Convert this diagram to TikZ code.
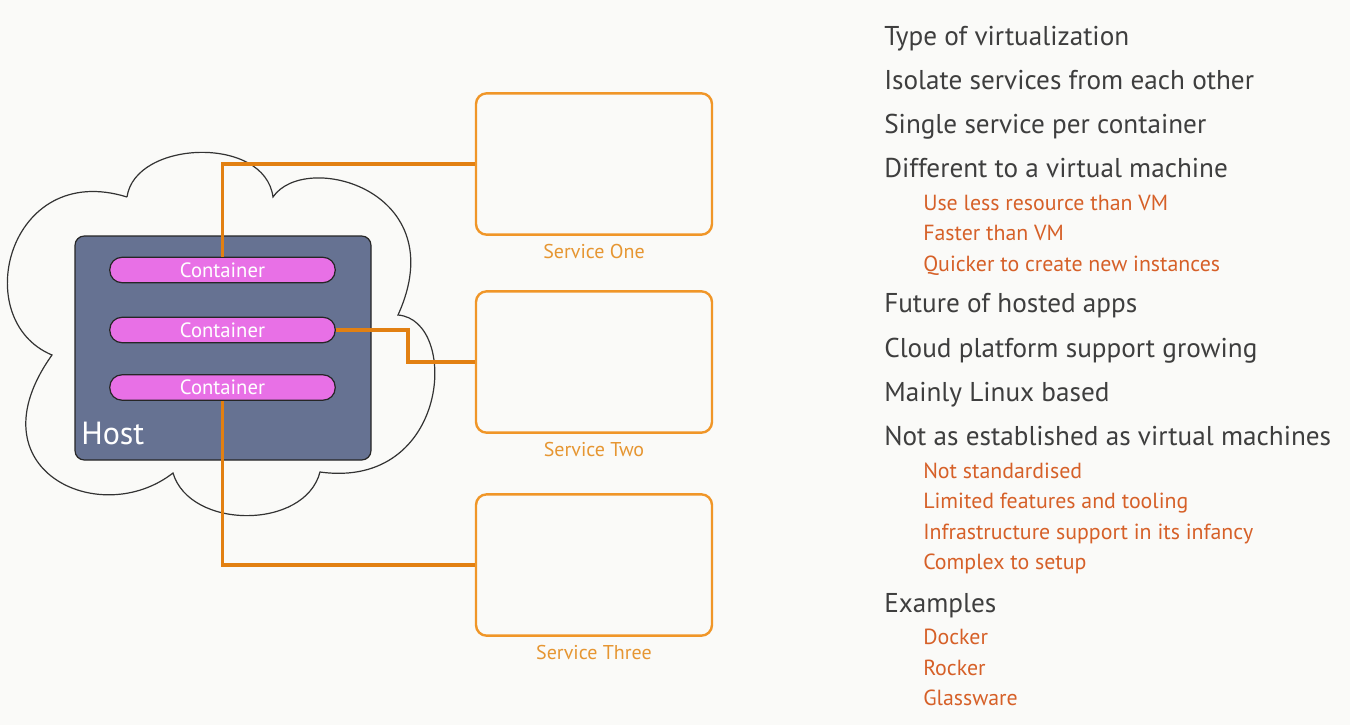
\documentclass[tikz,border=0pt]{standalone}
\usepackage{fontspec}
\setmainfont{PT Sans}
\usepackage{tikz}
\usetikzlibrary{positioning}
\definecolor{slideBack}{RGB}{250,250,248}
\definecolor{hostColor}{RGB}{102,114,146}
\definecolor{containerColor}{RGB}{232,112,230}
\definecolor{linkColor}{RGB}{226,128,18}
\definecolor{serviceColor}{RGB}{240,150,40}
\definecolor{serviceText}{RGB}{230,150,50}
\definecolor{mainGrey}{RGB}{62,62,62}
\definecolor{subOrange}{RGB}{214,96,40}
\tikzstyle{pixels} = [x = .75pt, y = -.75pt]
\tikzstyle{cloudLine} = [color=black!80, line width=.9pt]
\tikzstyle{hostStyle} = [draw=black!85, fill=hostColor, rounded corners = 7pt, line width=.9pt, minimum width=222pt, minimum height=168pt, inner sep=0pt]
\tikzstyle{containerStyle} = [draw=black!85, fill=containerColor, rounded corners = 9pt, line width=.9pt, minimum width=169pt, minimum height=19pt, inner sep=0pt, text=white, font=\fontsize{15.5}{17}\selectfont]
\tikzstyle{serviceStyle} = [draw=serviceColor, rounded corners = 8pt, line width=1.8pt, minimum width=177pt, minimum height=106pt, inner sep=0pt]
\tikzstyle{serviceLabel} = [text=serviceText, font=\fontsize{15}{17}\selectfont, inner sep=1pt]
\tikzstyle{linkLine} = [color=linkColor, line width=2.6pt]
\tikzstyle{mainText} = [anchor=base west, text=mainGrey, font=\fontsize{20.4}{23}\selectfont, inner sep=0pt]
\tikzstyle{subText} = [anchor=base west, text=subOrange, font=\fontsize{16.4}{19}\selectfont, inner sep=0pt]
\newcommand{\mainItem}[3]{\node [mainText] (#1) at (884,#2+9.5) {#3};}
\newcommand{\subItem}[3]{\node [subText] (#1) at (923,#2+7.6) {#3};}

\begin{document}
\begin{tikzpicture}[pixels]
\fill [slideBack] (0,0) rectangle (1350,725);
\useasboundingbox (0,0) rectangle (1350,725);
% cloud around the host
\draw [cloudLine] (127,197) .. controls (135,140) and (265,135) .. (273,197)
  .. controls (305,150) and (455,190) .. (398,315)
  .. controls (460,320) and (450,490) .. (320,472)
  .. controls (305,530) and (190,530) .. (173,473)
  .. controls (100,530) and (-30,470) .. (52,355)
  .. controls (-32,320) and (8,160) .. (127,197);
% host and its containers
\node [hostStyle] (host) at (223,348) {};
\node [anchor=west, text=white, font=\fontsize{24}{27}\selectfont, inner sep=0pt] (hostText) at (81,433) {Host};
\node [containerStyle] (cont1) at (222.5,270) {Container};
\node [containerStyle] (cont2) at (222.5,330) {Container};
\node [containerStyle] (cont3) at (222.5,387.5) {Container};
% services
\node [serviceStyle] (svc1) at (594,164) {};
\node [serviceStyle] (svc2) at (594,362) {};
\node [serviceStyle] (svc3) at (594,565) {};
\node [serviceLabel, below=5pt of svc1] (svcLabel1) {Service One};
\node [serviceLabel, below=5pt of svc2] (svcLabel2) {Service Two};
\node [serviceLabel, below=5pt of svc3] (svcLabel3) {Service Three};
% links
\coordinate (bend2) at (408,362);
\draw [linkLine] (cont1.north) |- (svc1.west);
\draw [linkLine] (cont2.east) -| (bend2) -- (svc2.west);
\draw [linkLine] (cont3.south) |- (svc3.west);
% notes
\mainItem{type}{36}{Type of virtualization}
\mainItem{isolate}{80}{Isolate services from each other}
\mainItem{single}{124}{Single service per container}
\mainItem{different}{168}{Different to a virtual machine}
\subItem{less}{203}{Use less resource than VM}
\subItem{faster}{233}{Faster than VM}
\subItem{quicker}{264}{Quicker to create new instances}
\mainItem{future}{303}{Future of hosted apps}
\mainItem{cloud}{348}{Cloud platform support growing}
\mainItem{linux}{392}{Mainly Linux based}
\mainItem{established}{436}{Not as established as virtual machines}
\subItem{standard}{471}{Not standardised}
\subItem{limited}{501}{Limited features and tooling}
\subItem{infra}{532}{Infrastructure support in its infancy}
\subItem{complex}{562}{Complex to setup}
\mainItem{examples}{603}{Examples}
\subItem{docker}{637}{Docker}
\subItem{rocker}{668}{Rocker}
\subItem{glass}{698}{Glassware}
\end{tikzpicture}
\end{document}
